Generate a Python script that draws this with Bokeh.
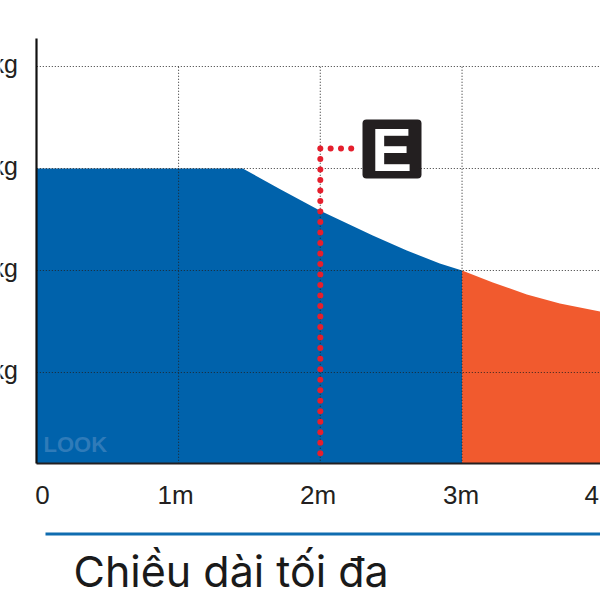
from bokeh.plotting import figure
from bokeh.models import Range1d, LinearAxis, FixedTicker, Label, BoxAnnotation
from bokeh.embed import file_html
from bokeh.resources import INLINE

# Chart values (length in metres, load in grid-line units)
x_ticks = [0, 1, 2, 3]
x_labels = ["0", "1m", "2m", "3m", "4m"]
y_ticks = [1, 2, 3, 4]
y_labels = ["kg", "kg", "kg", "kg"]
blue_len = [0, 1.453, 1.714, 1.996, 2.138, 2.370, 2.610, 2.843, 3.0]
blue_load = [3, 3, 2.799, 2.588, 2.495, 2.343, 2.196, 2.069, 2.0]
orange_len = [3.0, 3.217, 3.457, 3.690, 3.98]
orange_load = [2.0, 1.882, 1.765, 1.676, 1.596]
base = 0.105
top = 4.275
marker_h_len = [2.073, 2.146, 2.218]
marker_h_load = [3.196, 3.196, 3.196]
marker_v_load = [3.196, 3.093, 2.99, 2.887, 2.784, 2.681, 2.578, 2.475, 2.372, 2.269, 2.166,
                 2.063, 1.96, 1.857, 1.754, 1.651, 1.548, 1.445, 1.342, 1.239, 1.136, 1.033,
                 0.93, 0.827, 0.724, 0.621, 0.518, 0.415, 0.312, 0.209]
marker_v_len = [2.0] * len(marker_v_load)
title = "Chiều dài tối đa"

# Pixel calibration used for the annotations outside the plotted area
X0, XS = 36.3, 141.75
Y1, YS = 372.0, 102.0
xd = lambda px: (px - X0) / XS
yd = lambda py: 1 + (Y1 - py) / YS

p = figure(width=600, height=600, output_backend="svg", toolbar_location=None,
           x_range=Range1d(xd(0), xd(600)), y_range=Range1d(yd(600), yd(0)),
           x_axis_location=None, y_axis_location=None, min_border=0, outline_line_color=None)
p.grid.visible = False
p.background_fill_color = "white"

p.varea(blue_len, [base] * len(blue_len), blue_load, fill_color="#0062AB")
p.varea(orange_len, [base] * len(orange_len), orange_load, fill_color="#F15A2E")

# Dotted grid, over the fills, stopping at the top grid line
grid_style = dict(line_color="#222222", line_width=1.1, line_dash="1 2", line_alpha=0.9)
for t in x_ticks[1:]:
    p.line([t, t], [base, y_ticks[-1]], **grid_style)
for t in y_ticks:
    p.line([0, xd(600)], [t, t], **grid_style)

# Axes
yax = LinearAxis(fixed_location=0, ticker=FixedTicker(ticks=[]), bounds=(base, top),
                 major_tick_line_color=None, minor_tick_line_color=None,
                 axis_line_color="#111111", axis_line_width=2.2)
xax = LinearAxis(fixed_location=base, ticker=FixedTicker(ticks=[]), bounds=(0, xd(600)),
                 major_tick_line_color=None, minor_tick_line_color=None,
                 axis_line_color="#231F20", axis_line_width=2.2)
p.add_layout(yax, "left")
p.add_layout(xax, "below")

# Y tick labels, cut off by the left edge as in the reference
for t, lbl in zip(y_ticks, y_labels):
    p.add_layout(Label(x=xd(17.5), y=t, y_offset=3, text=lbl, text_align="right", text_baseline="middle",
                       text_font="Liberation Sans", text_font_size="25px", text_color="#231F20"))

# Marker line of round dots
p.scatter(marker_v_len + marker_h_len, marker_v_load + marker_h_load, size=6,
          fill_color="#E51F2D", line_color=None)

# E badge
p.add_layout(BoxAnnotation(left=xd(362), right=xd(421), top=yd(119), bottom=yd(178),
                           fill_color="#231F20", fill_alpha=1, line_color=None,
                           border_radius=4, level="annotation"))
p.add_layout(Label(x=xd(391), y=yd(149), text="E", text_align="center", text_baseline="middle",
                   text_font="Liberation Sans", text_font_style="bold", text_font_size="61px",
                   text_color="white", level="annotation"))

# Watermark
p.add_layout(Label(x=xd(43), y=yd(444), text="LOOK", text_align="left", text_baseline="middle",
                   text_font="Liberation Sans", text_font_style="bold", text_font_size="22px",
                   text_color="#2F7BB9"))

# X tick labels
for lbl, sx in zip(x_labels, [42, 175, 317.5, 460.5, 602]):
    p.add_layout(Label(x=xd(sx), y=yd(494), text=lbl, text_align="center", text_baseline="middle",
                       text_font="Liberation Sans", text_font_size="26px", text_color="#231F20"))

# Rule and axis title
p.line([xd(45), xd(600)], [yd(533.5), yd(533.5)], line_color="#0F6CB0", line_width=3)
p.add_layout(Label(x=xd(73), y=yd(570), text=title, text_align="left", text_baseline="middle",
                   text_font="Inter", text_font_size="43px", text_color="#1A1A1A"))

open("out.html", "w").write(file_html(p, INLINE))
